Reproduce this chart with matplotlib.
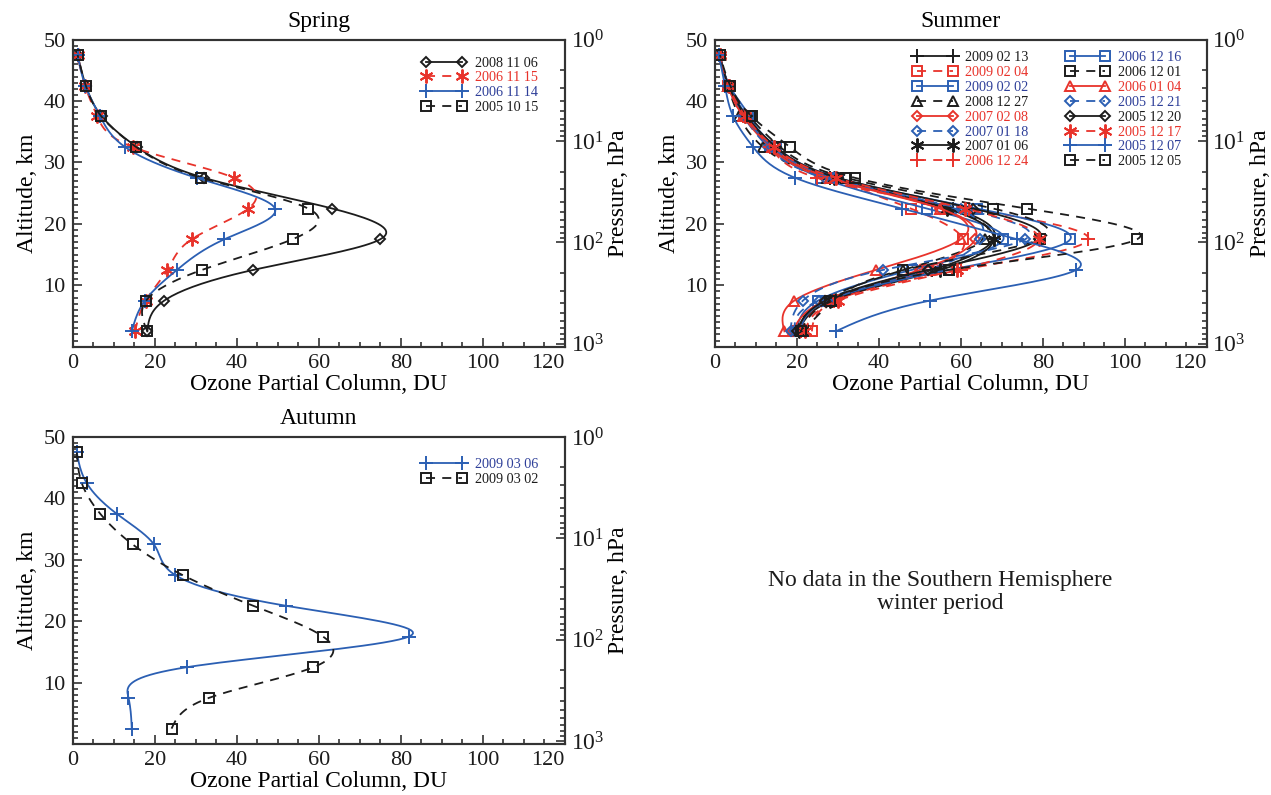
import matplotlib
matplotlib.use('Agg')
import numpy as np
import matplotlib.pyplot as plt
from matplotlib.ticker import MultipleLocator, LogLocator, LogFormatterMathtext, NullFormatter

plt.rcParams['font.family'] = ['Liberation Serif', 'DejaVu Serif']
plt.rcParams['mathtext.fontset'] = 'custom'
plt.rcParams['mathtext.rm'] = 'Liberation Serif'
plt.rcParams['mathtext.it'] = 'Liberation Serif:italic'

BLACK = '#1c1c1c'
RED = '#e8332b'
BLUE = '#2b5fb3'
TEXT_COLORS = {BLACK: '#1c1c1c', RED: '#e8332b', BLUE: '#2e3f99'}

# layer mid-altitudes, km
alt = [2.5, 7.5, 12.5, 17.5, 22.5, 27.5, 32.5, 37.5, 42.5, 47.5]

# partial columns, DU (bottom to top)
spring_dates = ['2008 11 06', '2006 11 15', '2006 11 14', '2005 10 15']
spring_values = [
    [18.2, 22.3, 44.0, 75.0, 63.3, 32.0, 15.7, 7.1, 3.2, 1.2],
    [15.2, 17.8, 23.1, 29.0, 42.8, 39.4, 14.7, 6.0, 3.0, 1.2],
    [14.4, 17.6, 25.4, 37.0, 49.3, 30.2, 12.8, 6.7, 3.1, 1.2],
    [18.2, 17.9, 31.5, 53.6, 57.4, 31.3, 15.5, 7.0, 3.2, 1.2],
]
spring_styles = [(BLACK, '-', 'D'), (RED, '--', 'ast'), (BLUE, '-', '+'), (BLACK, '--', 's')]

summer_dates = ['2009 02 13', '2009 02 04', '2009 02 02', '2008 12 27',
                '2007 02 08', '2007 01 18', '2007 01 06', '2006 12 24',
                '2006 12 16', '2006 12 01', '2006 01 04', '2005 12 21',
                '2005 12 20', '2005 12 17', '2005 12 07', '2005 12 05']
summer_values = [
    [20.5, 28.5, 53.0, 68.0, 58.0, 28.0, 14.0, 7.5, 3.3, 1.2],
    [23.7, 29.5, 52.0, 60.6, 47.8, 28.3, 14.3, 7.2, 3.3, 1.2],
    [20.0, 25.2, 48.0, 70.4, 51.7, 26.0, 13.5, 8.6, 3.6, 1.3],
    [19.5, 26.5, 46.0, 66.0, 57.0, 27.5, 11.8, 6.0, 3.2, 1.2],
    [19.0, 27.0, 50.0, 63.5, 55.0, 27.0, 13.5, 7.0, 3.3, 1.2],
    [19.5, 25.5, 52.0, 64.7, 58.5, 27.0, 13.0, 7.0, 3.2, 1.2],
    [20.5, 28.0, 55.0, 68.0, 56.6, 29.0, 14.5, 7.5, 3.4, 1.2],
    [21.0, 29.0, 60.0, 91.1, 62.0, 24.9, 13.5, 7.0, 3.3, 1.2],
    [21.0, 27.5, 57.0, 86.7, 64.0, 30.0, 15.0, 8.0, 3.5, 1.2],
    [21.5, 29.0, 46.0, 79.3, 67.9, 32.0, 16.0, 8.5, 3.6, 1.2],
    [17.0, 19.4, 39.3, 60.0, 55.0, 28.0, 14.0, 7.0, 3.2, 1.2],
    [18.5, 21.5, 41.0, 75.7, 60.0, 29.0, 14.0, 7.5, 3.3, 1.2],
    [20.0, 27.0, 52.0, 79.0, 63.0, 30.0, 15.0, 7.8, 3.4, 1.2],
    [22.0, 30.0, 59.0, 79.0, 61.0, 29.5, 14.5, 7.5, 3.4, 1.2],
    [29.5, 52.4, 88.1, 73.7, 45.6, 19.6, 9.4, 4.5, 2.5, 1.0],
    [21.0, 28.0, 57.0, 103.0, 76.1, 34.2, 18.4, 9.0, 3.8, 1.3],
]
summer_styles = [(BLACK, '-', '+'), (RED, '--', 's'), (BLUE, '-', 's'), (BLACK, '--', '^'),
                 (RED, '-', 'D'), (BLUE, '--', 'D'), (BLACK, '-', 'ast'), (RED, '--', '+'),
                 (BLUE, '-', 's'), (BLACK, '--', 's'), (RED, '-', '^'), (BLUE, '--', 'D'),
                 (BLACK, '-', 'D'), (RED, '--', 'ast'), (BLUE, '-', '+'), (BLACK, '--', 's')]

autumn_dates = ['2009 03 06', '2009 03 02']
autumn_values = [
    [14.4, 13.6, 27.8, 82.0, 52.0, 25.0, 19.8, 10.7, 3.4, 1.0],
    [24.1, 33.2, 58.7, 61.0, 44.0, 26.8, 14.6, 6.7, 2.2, 1.0],
]
autumn_styles = [(BLUE, '-', '+'), (BLACK, '--', 's')]

MARKERS = {'D': dict(marker='D', ms=5.5), 's': dict(marker='s', ms=7.5),
           '^': dict(marker='^', ms=7.5), '+': dict(marker='+', ms=10),
           'ast': dict(marker=(6, 2, 0), ms=10)}


def spline_through(z, x, per_seg=20):
    """natural cubic spline x(z) sampled densely; data points land on every per_seg-th sample"""
    z = np.asarray(z, float)
    x = np.asarray(x, float)
    n = len(z)
    h = np.diff(z)
    A = np.zeros((n, n))
    r = np.zeros(n)
    A[0, 0] = A[-1, -1] = 1.0
    for i in range(1, n - 1):
        A[i, i - 1] = h[i - 1]
        A[i, i] = 2 * (h[i - 1] + h[i])
        A[i, i + 1] = h[i]
        r[i] = 3 * ((x[i + 1] - x[i]) / h[i] - (x[i] - x[i - 1]) / h[i - 1])
    c = np.linalg.solve(A, r)
    b = (x[1:] - x[:-1]) / h - h * (2 * c[:-1] + c[1:]) / 3
    d = (c[1:] - c[:-1]) / (3 * h)
    zz, xx = [], []
    for i in range(n - 1):
        t = np.linspace(0, h[i], per_seg, endpoint=False)
        zz.append(z[i] + t)
        xx.append(x[i] + b[i] * t + c[i] * t ** 2 + d[i] * t ** 3)
    zz.append([z[-1]])
    xx.append([x[-1]])
    return np.concatenate(xx), np.concatenate(zz)


def profile_panel(fig, rect, title, dates, values, styles, legend_kw):
    ax = fig.add_axes(rect)
    for date, vals, (col, ls, mk) in zip(dates, values, styles):
        xx, zz = spline_through(alt, vals)
        dash = (0, (5, 4)) if ls == '--' else '-'
        ax.plot(xx, zz, color=col, linestyle=dash, lw=1.3, markevery=20,
                mfc='none', mec=col, mew=1.4, label=date, **MARKERS[mk])

    ax.set_xlim(0, 120)
    ax.set_ylim(0, 50)
    ax.set_xticks(range(0, 121, 20))
    ax.set_xticklabels([str(v) for v in range(0, 121, 20)])
    ax.get_xticklabels()[-1].set_ha('right')
    ax.xaxis.set_minor_locator(MultipleLocator(5))
    ax.set_yticks(range(10, 51, 10))
    ax.yaxis.set_minor_locator(MultipleLocator(1))
    ax.tick_params(which='both', direction='in', labelsize=16, colors='#333333',
                   labelcolor='#1c1c1c')
    ax.tick_params(which='major', length=6.5, width=1.2, pad=5)
    ax.tick_params(which='minor', length=3.3, width=1.2)
    for s in ax.spines.values():
        s.set_linewidth(1.5)
        s.set_color('#333333')
    ax.set_xlabel('Ozone Partial Column, DU', fontsize=17, labelpad=1)
    ax.set_ylabel('Altitude, km', fontsize=17, labelpad=4)
    ax.set_title(title, fontsize=17, pad=9)

    # pressure scale on the right
    ax2 = ax.twinx()
    ax2.set_yscale('log')
    ax2.set_ylim(1070, 1)
    ax2.yaxis.set_major_locator(LogLocator(base=10, numticks=10))
    ax2.yaxis.set_major_formatter(LogFormatterMathtext())
    ax2.yaxis.set_minor_locator(LogLocator(base=10, subs=np.arange(2, 10), numticks=10))
    ax2.yaxis.set_minor_formatter(NullFormatter())
    ax2.tick_params(which='both', direction='in', labelsize=17, colors='#333333',
                    labelcolor='#1c1c1c')
    ax2.tick_params(which='major', length=6.5, width=1.2, pad=4)
    ax2.tick_params(which='minor', length=3.3, width=1.2)
    for s in ax2.spines.values():
        s.set_linewidth(1.5)
        s.set_color('#333333')
    ax2.set_ylabel('Pressure, hPa', fontsize=17, labelpad=3)

    leg = ax.legend(loc='upper right', frameon=False, numpoints=2, fontsize=10.2,
                    handlelength=3.1, handletextpad=0.6, labelspacing=0.13,
                    borderpad=0, borderaxespad=0, **legend_kw)
    for txt, (col, _, _) in zip(leg.get_texts(), styles):
        txt.set_color(TEXT_COLORS[col])
    return ax


fig = plt.figure(figsize=(12.71, 7.95), dpi=100)

profile_panel(fig, [0.0572, 0.5639, 0.3873, 0.3862], 'Spring',
              spring_dates, spring_values, spring_styles,
              dict(bbox_to_anchor=(0.945, 0.945)))
profile_panel(fig, [0.5623, 0.5639, 0.3873, 0.3862], 'Summer',
              summer_dates, summer_values, summer_styles,
              dict(bbox_to_anchor=(0.948, 0.962), ncol=2, columnspacing=2.6))
profile_panel(fig, [0.0572, 0.0642, 0.3873, 0.3862], 'Autumn',
              autumn_dates, autumn_values, autumn_styles,
              dict(bbox_to_anchor=(0.945, 0.93)))

fig.text(0.7396, 0.2553, 'No data in the Southern Hemisphere\nwinter period',
         ha='center', va='center', fontsize=17, multialignment='center',
         color='#1c1c1c', linespacing=1.1)

fig.savefig('out.png', dpi=100)
